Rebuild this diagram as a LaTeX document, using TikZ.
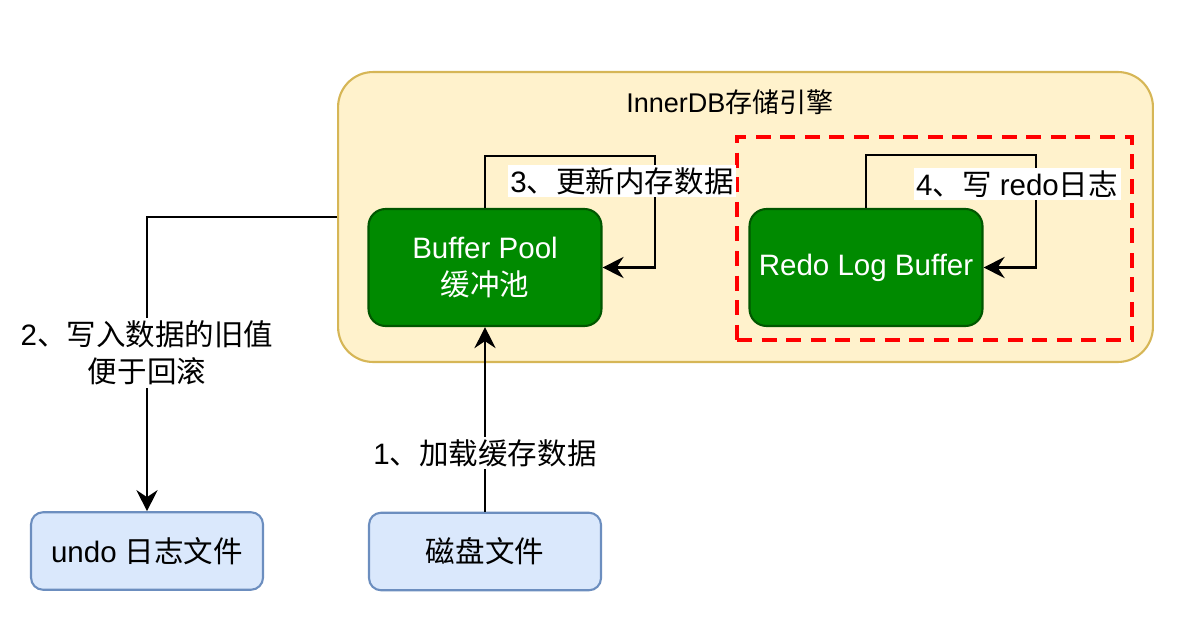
\documentclass[tikz,border=0pt]{standalone}
\usepackage{fontspec}
\setmainfont{Liberation Sans}
\newfontfamily\cjk{Noto Sans CJK SC}
\usetikzlibrary{arrows.meta}
\definecolor{outerfill}{HTML}{FFF2CC}
\definecolor{outerdraw}{HTML}{D6B656}
\definecolor{greenfill}{HTML}{008A00}
\definecolor{greendraw}{HTML}{005700}
\definecolor{bluefill}{HTML}{DAE8FC}
\definecolor{bluedraw}{HTML}{6C8EBF}
\definecolor{redline}{HTML}{FF0000}
\tikzset{
  txt/.style={font=\fontsize{16.8}{20.8}\selectfont, align=center},
  greenbox/.style={txt, draw=greendraw, fill=greenfill, text=white, line width=1.2pt,
    rounded corners=0.34cm, minimum width=4.66cm, minimum height=2.34cm, inner sep=0pt},
  bluebox/.style={txt, draw=bluedraw, fill=bluefill, line width=1.2pt,
    rounded corners=0.24cm, minimum width=4.64cm, minimum height=1.55cm, inner sep=0pt},
  lbl/.style={txt, fill=white, inner sep=1.5pt},
  arr/.style={line width=1.3pt, -{Stealth[length=12pt,width=12pt,inset=4pt]}},
}
\begin{document}
\begin{tikzpicture}[x=0.02cm,y=-0.02cm]
\useasboundingbox (0,0) rectangle (1182,628);
% outer engine box
\node[draw=outerdraw, fill=outerfill, line width=1.2pt, rounded corners=0.7cm,
  minimum width=16.3cm, minimum height=5.8cm, inner sep=0pt] (outer) at (745.5,217) {};
\node[font=\fontsize{15.4}{18}\selectfont] (title) at (730,102) {InnerDB{\cjk 存储引擎}};
% red dashed region
\node[draw=redline, line width=2.3pt, dash pattern=on 8.5pt off 5.5pt,
  minimum width=7.9cm, minimum height=4.06cm, inner sep=0pt] (redo region) at (934.5,238.5) {};
% green boxes
\node[greenbox] (bp) at (485,267.5) {Buffer Pool\\{\cjk 缓冲池}};
\node[greenbox] (rlb) at (866,267.5) {Redo Log Buffer};
% blue boxes
\node[bluebox] (undo) at (147,551) {undo {\cjk 日志文件}};
\node[bluebox] (disk) at (485,551.5) {{\cjk 磁盘文件}};
% loop coordinates
\coordinate (l3) at (655,156);
\coordinate (l4) at (1036,155);
% connectors
\draw[arr] (disk) -- (bp);
\draw[arr] (bp.north) |- (l3) |- (bp.east);
\draw[arr] (rlb.north) |- (l4) |- (rlb.east);
\draw[arr] (outer.west) -| (undo.north);
% labels
\node[lbl] (t1) at (485,453) {1{\cjk 、加载缓存数据}};
\node[lbl] (t2) at (147,353) {2{\cjk 、写入数据的旧值}\\{\cjk 便于回滚}};
\node[lbl] (t3) at (622,181) {3{\cjk 、更新内存数据}};
\node[lbl] (t4) at (1017,184) {4{\cjk 、写} redo{\cjk 日志}};
\end{tikzpicture}
\end{document}
